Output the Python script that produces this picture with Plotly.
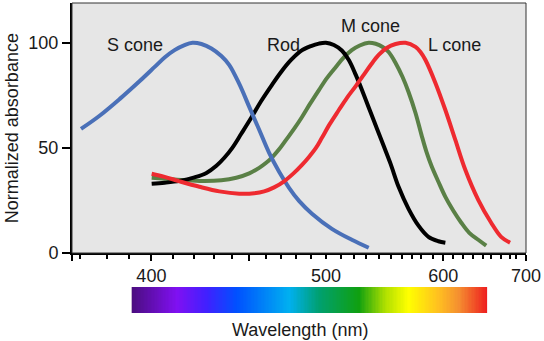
import plotly.graph_objects as go

# ---------------- data ----------------
s_cone_nm = [360.23, 371.02, 382.39, 393.75, 402.27, 407.95, 413.64, 419.32, 423.86, 428.98,
             434.66, 440.34, 444.89, 450.57, 456.25, 461.93, 467.61, 473.30, 478.98, 484.66,
             492.05, 503.41, 514.77, 524.43]
s_cone_abs = [59.0, 65.4, 73.3, 81.8, 88.5, 93.0, 96.5, 98.9, 100, 99.4,
              97.3, 93.7, 89.4, 80.4, 69.5, 58.6, 47.6, 38.6, 31.0, 24.8,
              18.7, 11.5, 6.3, 2.5]

rod_nm = [400.57, 407.95, 416.48, 425.00, 431.82, 437.50, 442.05, 446.59, 451.70, 457.39,
          463.07, 468.75, 474.43, 480.11, 485.80, 491.48, 496.02, 500.00, 504.55, 509.09,
          513.07, 517.05, 521.02, 525.00, 528.98, 532.95, 536.93, 541.48, 547.16, 552.84,
          558.52, 564.20, 568.18]
rod_abs = [32.9, 33.4, 34.3, 36.0, 38.1, 41.5, 45.3, 50.0, 56.7, 64.3,
           72.3, 79.4, 86.1, 91.8, 96.1, 98.4, 99.6, 100, 98.9, 96.3,
           91.8, 84.7, 76.6, 68.0, 59.5, 51.0, 42.4, 31.5, 21.0, 13.0,
           7.7, 5.6, 4.9]

m_cone_nm = [400.57, 413.64, 427.84, 440.34, 448.86, 456.25, 461.93, 465.91, 469.32, 473.30,
             477.27, 481.82, 486.36, 490.91, 496.02, 500.57, 505.68, 510.23, 514.77, 519.32,
             524.43, 528.41, 532.39, 535.80, 539.77, 543.75, 547.16, 551.14, 554.55, 557.39,
             560.23, 564.20, 568.18, 572.73, 577.27, 581.82, 586.93, 591.48]
m_cone_abs = [35.8, 35.0, 34.3, 34.6, 35.8, 37.9, 40.5, 42.9, 45.5, 49.3,
              53.8, 59.0, 64.7, 70.9, 77.5, 83.2, 88.5, 93.0, 96.5, 98.7,
              100, 99.5, 98.0, 95.6, 90.4, 83.7, 76.6, 66.6, 56.2, 48.1,
              41.5, 33.9, 26.7, 20.1, 14.4, 9.6, 6.3, 3.5]

l_cone_nm = [400.57, 407.95, 416.48, 427.84, 439.20, 450.57, 459.09, 464.77, 470.45, 476.14,
             481.82, 486.36, 490.34, 494.32, 497.73, 502.27, 507.39, 511.93, 517.05, 521.59,
             525.57, 530.11, 534.66, 539.77, 545.45, 551.14, 553.98, 556.82, 562.50, 568.18,
             573.86, 579.55, 586.93, 594.32, 600.00, 605.11]
l_cone_abs = [37.7, 36.2, 34.1, 31.5, 29.3, 28.2, 28.4, 29.3, 31.2, 34.1,
              38.1, 41.9, 45.7, 50.0, 54.8, 61.4, 68.0, 73.7, 79.4, 84.7,
              89.4, 94.2, 97.5, 99.4, 100, 98.0, 95.6, 91.8, 80.9, 68.0,
              53.8, 39.6, 25.3, 14.4, 7.7, 4.9]

x_tick_labels = ["400", "500", "600", "700"]
x_label_pos = [400.4, 500.0, 567.0, 614.2]
x_long_ticks = [355.15, 400.4, 456.3, 567.0, 614.2]
x_minor_ticks = [359.7, 374.8, 387.7, 412.7, 425.0, 436.4, 446.6, 465.9, 474.4, 483.0, 491.5,
                 500.0, 508.5, 515.9, 522.7, 530.1, 536.9, 543.2, 548.9, 554.5, 561.4, 572.7,
                 578.4, 584.1, 589.8, 594.3, 600.0, 605.1, 608.5]
y_tick_vals = [0, 50, 100]
y_tick_labels = ["0", "50", "100"]

spectrum_stops = [0, 0.126, 0.21, 0.294, 0.443, 0.527, 0.639, 0.714, 0.779, 0.863, 0.92, 1]
spectrum_colors = ["#4b0d80", "#8010f2", "#4020ff", "#0050ff", "#00b0f0", "#00a070",
                   "#10a010", "#b0e000", "#ffff00", "#ffc020", "#f59030", "#ee2020"]

FONT = "Liberation Sans, Arial, sans-serif"
TXT = "#1a1a1a"

fig = go.Figure()

curves = [
    (m_cone_nm, m_cone_abs, "#5a8046", "M cone"),
    (rod_nm, rod_abs, "#000000", "Rod"),
    (s_cone_nm, s_cone_abs, "#4a70b8", "S cone"),
    (l_cone_nm, l_cone_abs, "#ee2a30", "L cone"),
]
for xs, ys, col, name in curves:
    fig.add_trace(go.Scatter(x=xs, y=ys, mode="lines", name=name,
                             line=dict(color=col, width=4, shape="spline", smoothing=1.0),
                             showlegend=False, hoverinfo="skip"))

# invisible trace for the overlay axis that carries the wavelength labels
fig.add_trace(go.Scatter(x=[400], y=[None], xaxis="x3", yaxis="y", showlegend=False,
                         mode="markers", hoverinfo="skip"))

# spectrum bar
N = 256
fig.add_trace(go.Heatmap(z=[list(range(N))], xaxis="x2", yaxis="y2", showscale=False,
                         colorscale=[[s, c] for s, c in zip(spectrum_stops, spectrum_colors)],
                         hoverinfo="skip"))

XR = [355.1, 614.2]
fig.update_layout(
    width=544, height=341,
    margin=dict(l=72, r=16, t=3, b=28),
    paper_bgcolor="white",
    plot_bgcolor="#e6e6e6",
    font=dict(family=FONT, size=18, color=TXT),
    xaxis=dict(domain=[0, 1], anchor="y", range=XR, showgrid=False, zeroline=False,
               showline=True, linecolor="black", linewidth=2,
               tickmode="array", tickvals=x_long_ticks, ticks="outside", ticklen=6,
               tickwidth=1.5, tickcolor="black", showticklabels=False,
               minor=dict(tickmode="array", tickvals=x_minor_ticks, ticks="outside",
                          ticklen=3.5, tickwidth=1.5, tickcolor="black", showgrid=False)),
    xaxis3=dict(overlaying="x", anchor="y", range=XR, showgrid=False, zeroline=False,
                showline=False, tickmode="array", tickvals=x_label_pos, ticktext=x_tick_labels,
                tickangle=0, ticks="outside", ticklen=6, tickcolor="rgba(0,0,0,0)",
                tickfont=dict(size=18, color=TXT)),
    yaxis=dict(domain=[0.1935, 1], anchor="x", range=[0, 118.9], showgrid=False,
               zeroline=False, showline=True, linecolor="black", linewidth=2,
               tickmode="array", tickvals=y_tick_vals, ticktext=y_tick_labels,
               ticks="outside", ticklen=8, tickwidth=1.5, tickcolor="black",
               tickfont=dict(size=18, color=TXT)),
    xaxis2=dict(domain=[0.131, 0.9145], anchor="y2", range=[-0.5, N - 0.5], visible=False),
    yaxis2=dict(domain=[0, 0.0839], anchor="x2", range=[-0.5, 0.5], visible=False),
    shapes=[dict(type="rect", xref="x domain", yref="y domain", x0=0, x1=1, y0=0, y1=1,
                 line=dict(color="#333333", width=1), layer="above")],
    annotations=[
        dict(text="S cone", x=391.1, y=98.8, xref="x", yref="y", showarrow=False,
             font=dict(size=18, color=TXT)),
        dict(text="Rod", x=475.9, y=98.8, xref="x", yref="y", showarrow=False,
             font=dict(size=18, color=TXT)),
        dict(text="M cone", x=525.6, y=107.8, xref="x", yref="y", showarrow=False,
             font=dict(size=18, color=TXT)),
        dict(text="L cone", x=573.5, y=98.8, xref="x", yref="y", showarrow=False,
             font=dict(size=18, color=TXT)),
        dict(text="Normalized absorbance", x=-0.1316, y=0.597, xref="paper", yref="paper",
             textangle=-90, showarrow=False, xanchor="center", yanchor="middle",
             font=dict(size=18, color=TXT)),
        dict(text="Wavelength (nm)", x=0.502, y=-0.055, xref="paper", yref="paper",
             showarrow=False, xanchor="center", yanchor="middle",
             font=dict(size=18, color=TXT)),
    ],
)

fig.write_html("out.html")
